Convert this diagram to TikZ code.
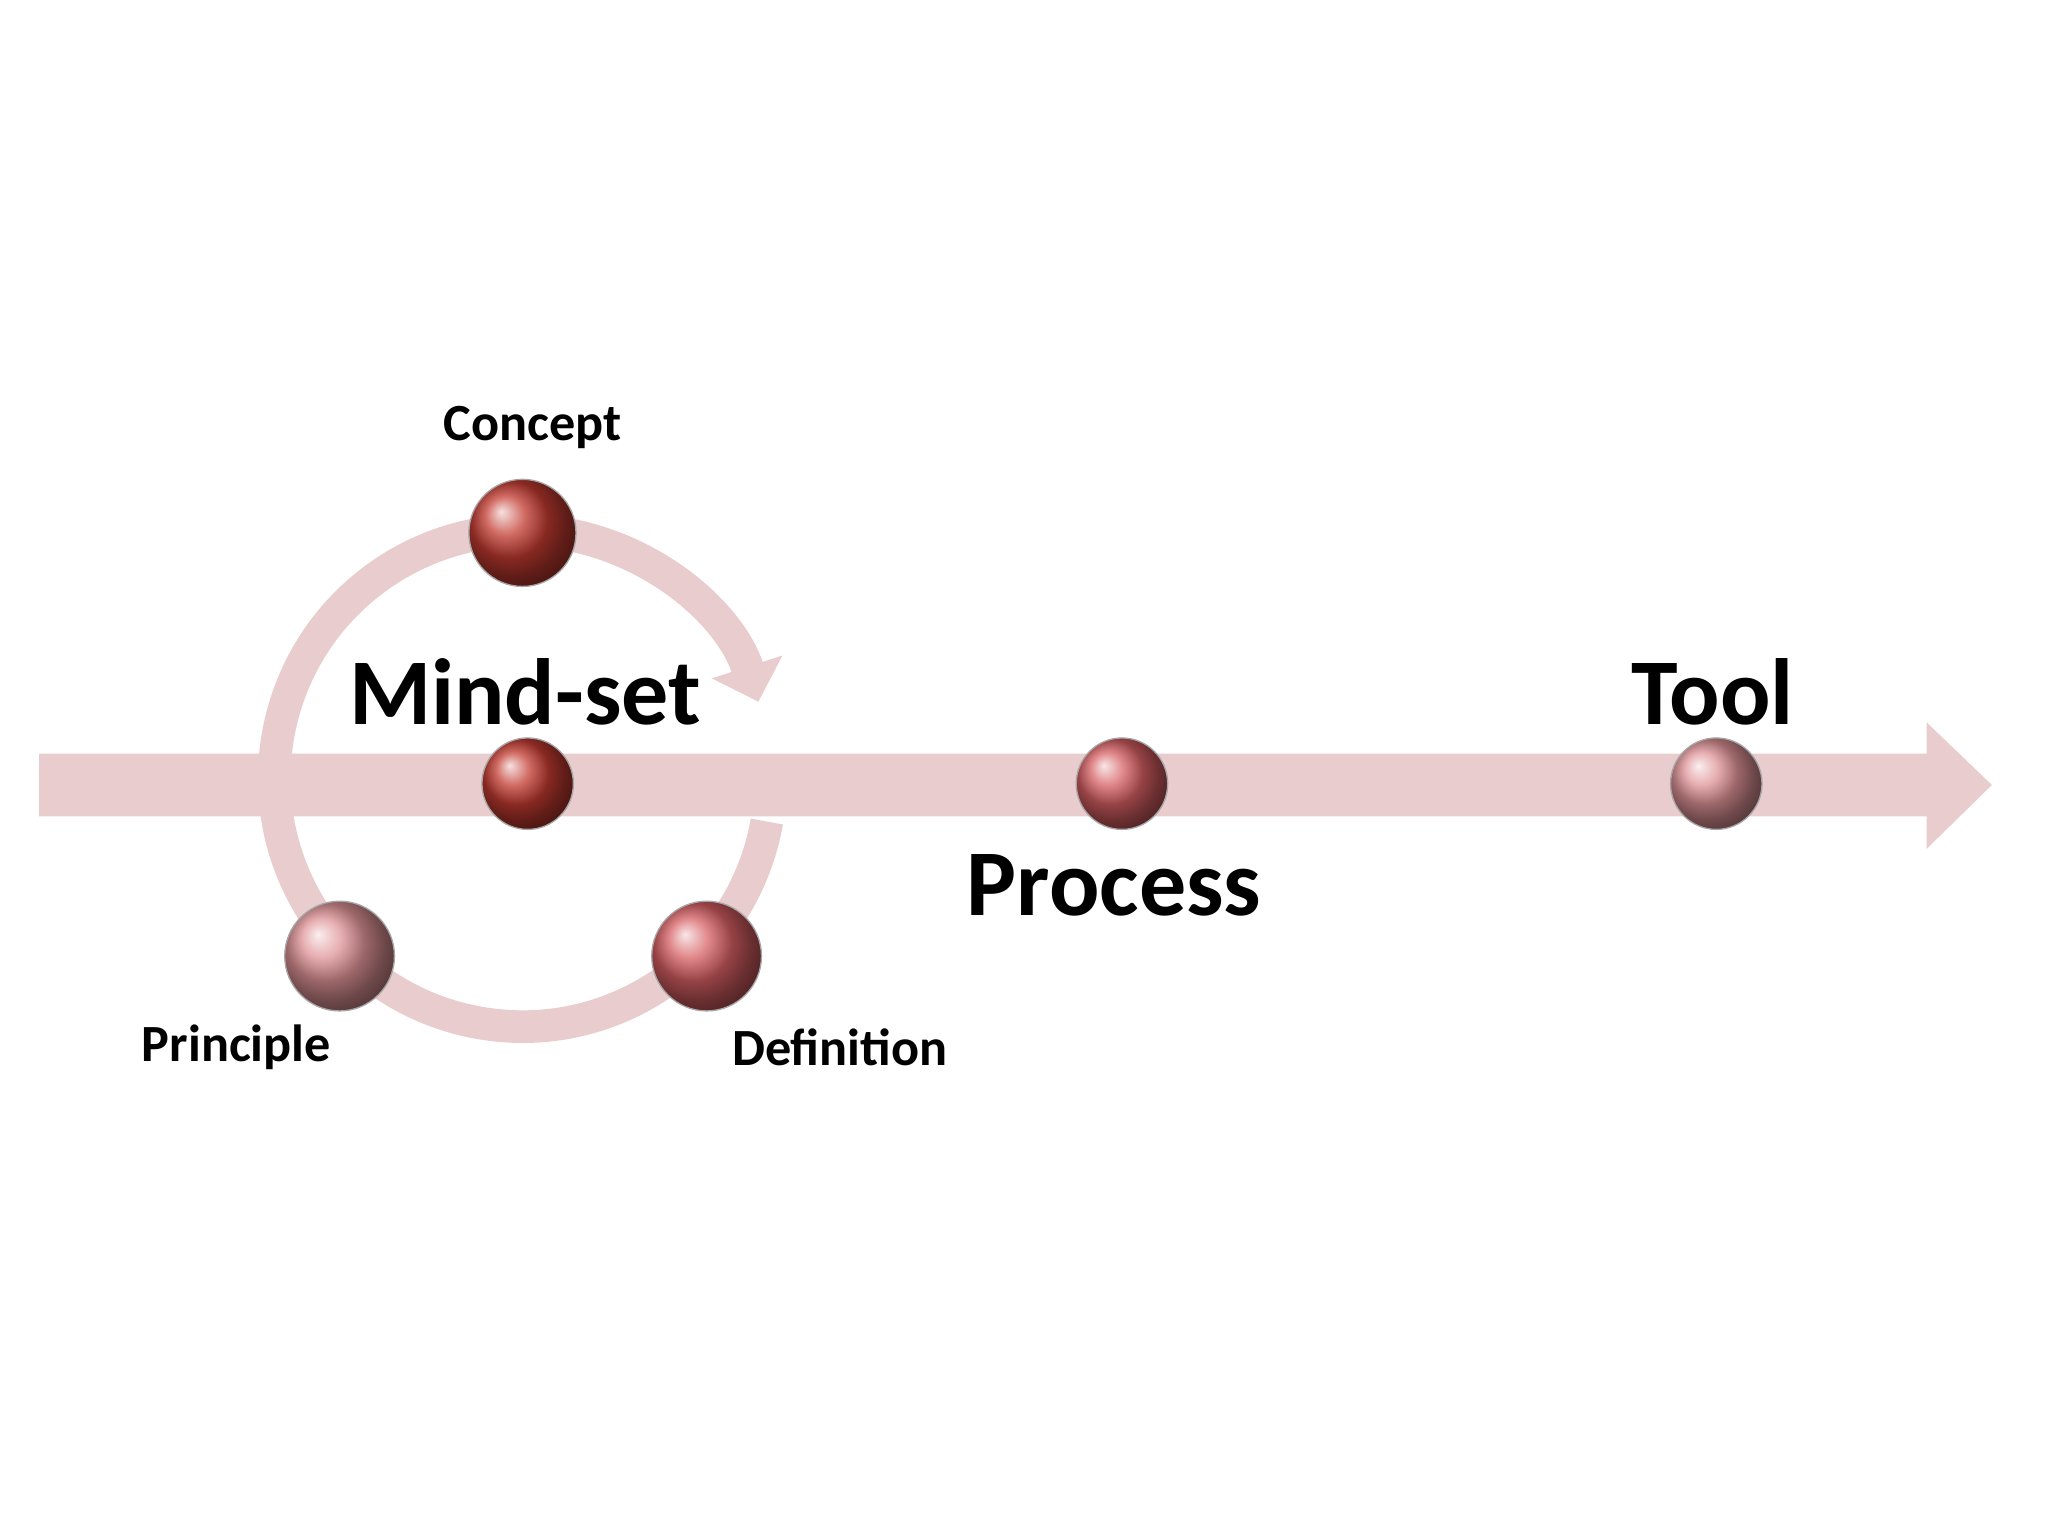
\documentclass[tikz,border=0pt]{standalone}
\usepackage{fontspec}
\setmainfont{Carlito}
\usetikzlibrary{arrows.meta}
\definecolor{band}{HTML}{E8CCCE}
\definecolor{dark}{HTML}{C23A30}
\definecolor{mid}{HTML}{D55E62}
\definecolor{light}{HTML}{DE9296}
\begin{document}
\begin{tikzpicture}[x=1pt,y=1pt,
  ball/.style={circle,draw=black!35,line width=1pt,shading=ball,inner sep=0pt,minimum size=#1},
  big/.style={font=\fontsize{72}{80}\selectfont\bfseries},
  small/.style={font=\fontsize{40}{46}\selectfont\bfseries}]
\useasboundingbox (0,0) rectangle (1568,1176);
\fill[white] (0,0) rectangle (1568,1176);
\coordinate (rc) at (400,580);
% main arrow
\fill[band] (30,551) -- (1475,551) -- (1475,526) -- (1525,575) -- (1475,623) -- (1475,599) -- (30,599) -- cycle;
% ring
\draw[band,line width=25pt,-{Triangle[width=55pt,length=28pt]}] ([shift={(-10:190)}]rc) arc[start angle=-10,end angle=-342,radius=190];
% balls
\node[ball=82pt,ball color=dark] (concept) at (400,768) {};
\node[ball=70pt,ball color=dark] (mind) at (404,576) {};
\node[ball=70pt,ball color=mid] (process) at (859,576) {};
\node[ball=70pt,ball color=light] (tool) at (1314,576) {};
\node[ball=84pt,ball color=light] (principle) at (260,444) {};
\node[ball=84pt,ball color=mid] (definition) at (541,444) {};
% labels
\node[small] (tconcept) at (408,849) {Concept};
\node[big] (tmind) at (402,646) {Mind-set};
\node[big] (ttool) at (1311,646) {Tool};
\node[big] (tprocess) at (853,498) {Process};
\node[small] (tprinciple) at (181,374) {Principle};
\node[small] (tdefinition) at (643,374) {Definition};
\end{tikzpicture}
\end{document}
